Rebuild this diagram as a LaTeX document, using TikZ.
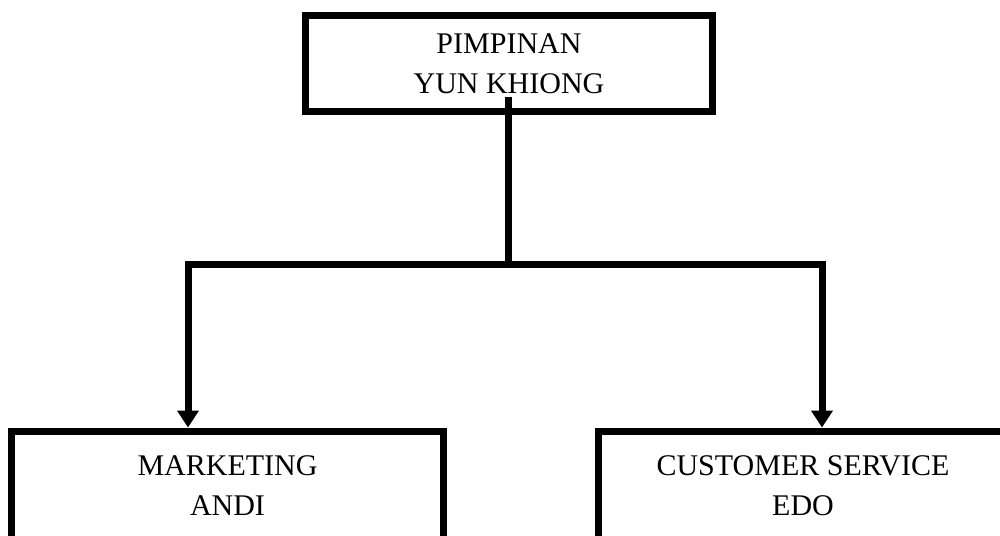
\documentclass[tikz,border=0pt]{standalone}
\usepackage{fontspec}
\setmainfont{Liberation Serif}
\usetikzlibrary{arrows.meta}

\begin{document}
\begin{tikzpicture}[x=1pt, y=-1pt,
  box/.style={shape=rectangle, draw, line width=7pt, align=center, inner sep=0pt,
    font=\fontsize{30}{40}\selectfont},
  link/.style={draw, line width=7pt, line join=miter},
  arrow/.style={link, -{Triangle[length=17pt, width=21pt]}}]
  \useasboundingbox (0, 0) rectangle (1000, 535);
  \clip (0, 0) rectangle (1000, 535);
  \node (top) at (509, 63.5) [box, minimum width=407pt, minimum height=96pt] {PIMPINAN\\YUN KHIONG};
  \node (mkt) at (227.5, 486) [box, minimum width=432pt, minimum height=110pt] {MARKETING\\ANDI};
  \node (cs) at (803, 486) [box, minimum width=409pt, minimum height=110pt] {CUSTOMER SERVICE\\EDO};
  \coordinate (stem) at (508, 97);
  \coordinate (split) at (508, 264);
  \coordinate (leftdrop) at (188, 264);
  \coordinate (rightdrop) at (822, 264);
  \draw[link] (stem) -- (split);
  \draw[arrow] (split) -| (mkt.north -| leftdrop);
  \draw[arrow] (split) -| (cs.north -| rightdrop);
\end{tikzpicture}
\end{document}
